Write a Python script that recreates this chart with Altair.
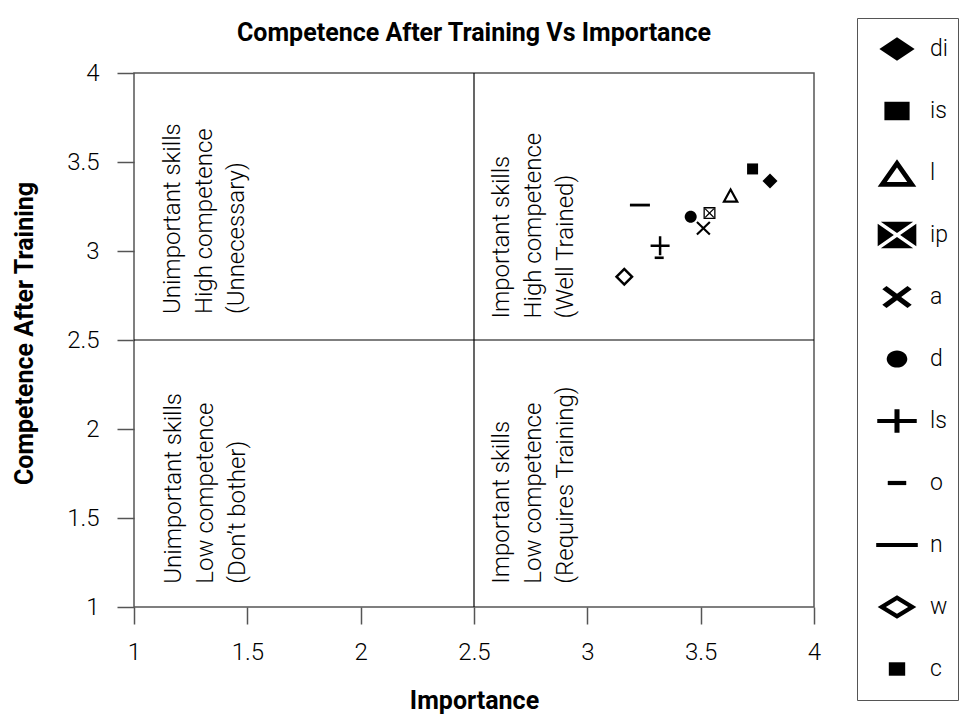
import altair as alt
import pandas as pd

# ---------------- data ----------------
names = ["di", "is", "l", "ip", "a", "d", "ls", "o", "n", "w", "c"]
importance = [3.806, 3.729, 3.632, 3.539, 3.512, 3.456, 3.321, 3.317, 3.232, 3.163, 3.729]
competence = [3.393, 3.461, 3.315, 3.213, 3.128, 3.193, 3.030, 2.962, 3.258, 2.856, 3.461]

x_ticks = [1, 1.5, 2, 2.5, 3, 3.5, 4]
y_ticks = [1, 1.5, 2, 2.5, 3, 3.5, 4]

quad_x = [1.121, 1.123, 2.572, 2.572]
quad_y = [2.646, 1.131, 2.621, 1.131]
quad_text = [
    "Unimportant skills\nHigh competence\n(Unnecessary)",
    "Unimportant skills\nLow competence\n(Don\u2019t bother)",
    "Important skills\nHigh competence\n(Well Trained)",
    "Important skills\nLow competence\n(Requires Training)",
]

split_x = [2.5]
split_y = [2.5]

# ---------------- symbol paths ----------------
def poly(pts):
    return "M" + "L".join(f"{x:.3f},{y:.3f}" for x, y in pts) + "Z"

def rect(hw, hh, rev=False):
    pts = [(-hw, -hh), (hw, -hh), (hw, hh), (-hw, hh)]
    return poly(pts[::-1] if rev else pts)

def diamond(hw, hh, rev=False):
    pts = [(0, -hh), (hw, 0), (0, hh), (-hw, 0)]
    return poly(pts[::-1] if rev else pts)

def xpoly(ex, ey, c):
    cy = c * ey / ex
    return poly([(-ex, -ey + cy), (-ex + c, -ey), (0, -cy), (ex - c, -ey), (ex, -ey + cy), (c, 0),
                 (ex, ey - cy), (ex - c, ey), (0, cy), (-ex + c, ey), (-ex, ey - cy), (-c, 0)])

def plus(hw, hh, tx, ty):
    return poly([(-tx, -hh), (tx, -hh), (tx, -ty), (hw, -ty), (hw, ty), (tx, ty), (tx, hh), (-tx, hh),
                 (-tx, ty), (-hw, ty), (-hw, -ty), (-tx, -ty)])

def ellipse(rx, ry):
    return f"M{-rx},0A{rx},{ry} 0 1,0 {rx},0A{rx},{ry} 0 1,0 {-rx},0Z"

def boxx(hw, hh, gx, gy):
    return (poly([(-hw + gx, -hh), (hw - gx, -hh), (0, -gy)]) +
            poly([(hw, -hh + gy), (hw, hh - gy), (gx, 0)]) +
            poly([(hw - gx, hh), (-hw + gx, hh), (0, gy)]) +
            poly([(-hw, hh - gy), (-hw, -hh + gy), (-gx, 0)]))

plot_paths = [
    diamond(0.75, 0.75),
    rect(0.55, 0.55),
    poly([(0, -0.78), (0.85, 0.78), (-0.85, 0.78)]) + poly([(0, -0.32), (-0.48, 0.56), (0.48, 0.56)]),
    rect(0.6, 0.6) + rect(0.47, 0.47, rev=True) + xpoly(0.47, 0.47, 0.09),
    xpoly(0.72, 0.70, 0.15),
    ellipse(0.6, 0.6),
    plus(0.95, 0.95, 0.125, 0.125),
    rect(0.45, 0.13),
    rect(1.0, 0.14),
    diamond(0.95, 0.95) + diamond(0.6, 0.6, rev=True),
    rect(0.35, 0.35),
]

B = "M-1,-1M1,1"
legend_paths = [
    B + diamond(0.84, 0.56),
    B + rect(0.6, 0.44),
    B + poly([(0, -0.66), (0.92, 0.66), (-0.92, 0.66)]) + poly([(0, -0.267), (-0.486, 0.43), (0.486, 0.43)]),
    B + boxx(0.92, 0.63, 0.15, 0.10),
    B + xpoly(0.70, 0.52, 0.2),
    B + ellipse(0.49, 0.41),
    B + plus(0.94, 0.56, 0.12, 0.1),
    B + rect(0.44, 0.1),
    B + rect(0.99, 0.1),
    B + diamond(0.92, 0.56) + diamond(0.53, 0.32, rev=True),
    B + rect(0.39, 0.32),
]

# ---------------- chart ----------------
BOLD_FONT = "Roboto"
LIGHT_FONT = "Roboto"

points_df = pd.DataFrame({"name": names, "importance": importance, "competence": competence})
quad_df = pd.DataFrame({"importance": quad_x, "competence": quad_y, "label": quad_text})
vline_df = pd.DataFrame({"importance": split_x})
hline_df = pd.DataFrame({"competence": split_y})

X = alt.X("importance:Q",
          scale=alt.Scale(domain=[1, 4], nice=False, zero=False),
          axis=alt.Axis(values=x_ticks, format="~g", title="Importance", labelPadding=16,
                        titleBaseline="top", titleY=81, labelFlush=False))
Y = alt.Y("competence:Q",
          scale=alt.Scale(domain=[1, 4], nice=False, zero=False),
          axis=alt.Axis(values=y_ticks, format="~g", title="Competence After Training",
                        labelPadding=18, titleAngle=270, titleBaseline="bottom",
                        titleX=-97, titleY=260, labelFlush=False))

vrule = alt.Chart(vline_df).mark_rule(color="black", strokeWidth=1.2).encode(x=X)
hrule = alt.Chart(hline_df).mark_rule(color="black", strokeWidth=1.2).encode(y=Y)

quad = alt.Chart(quad_df).mark_text(
    angle=270, align="left", baseline="top", lineBreak="\n", lineHeight=32,
    font=LIGHT_FONT, fontWeight=300, fontSize=24, color="black"
).encode(x=X, y=Y, text="label:N")

pts = alt.Chart(points_df).mark_point(filled=True, color="black", opacity=1, size=400).encode(
    x=X, y=Y,
    shape=alt.Shape("name:N", scale=alt.Scale(domain=names, range=plot_paths), legend=None),
)

legend_pts = alt.Chart(points_df).mark_point(filled=True, color="black", opacity=0, size=400).encode(
    x=X, y=Y,
    shape=alt.Shape("name:N", scale=alt.Scale(domain=names, range=legend_paths),
                    legend=alt.Legend(title=None, orient="none", legendX=723, legendY=-55,
                                      padding=10, symbolOffset=9, rowPadding=20,
                                      symbolSize=1764, symbolStrokeWidth=0,
                                      symbolFillColor="black", symbolOpacity=1,
                                      labelFont=LIGHT_FONT, labelFontWeight=300,
                                      labelFontSize=23, labelColor="black", labelOffset=12,
                                      strokeColor="#555")),
)

chart = alt.layer(vrule, hrule, quad, pts, legend_pts).resolve_scale(
    shape="independent"
).properties(
    width=680, height=534,
    autosize=alt.AutoSizeParams(type="none"),
    padding={"left": 126, "top": 65, "right": 149, "bottom": 112},
    title=alt.TitleParams("Competence After Training Vs Importance", font=BOLD_FONT,
                          fontWeight="bold", fontSize=25, color="black", offset=0, dy=28,
                          frame="group", anchor="middle"),
).configure_view(
    stroke="#555", strokeWidth=1.5
).configure_axis(
    domain=False, grid=False, ticks=True, tickColor="#555", tickWidth=1.5, tickSize=17,
    labelFont=LIGHT_FONT, labelFontWeight=300, labelFontSize=24, labelColor="black",
    labelOverlap=False,
    titleFont=BOLD_FONT, titleFontWeight="bold", titleFontSize=25, titleColor="black",
)

chart.save("out.html", embed_options={"renderer": "svg", "actions": False})
